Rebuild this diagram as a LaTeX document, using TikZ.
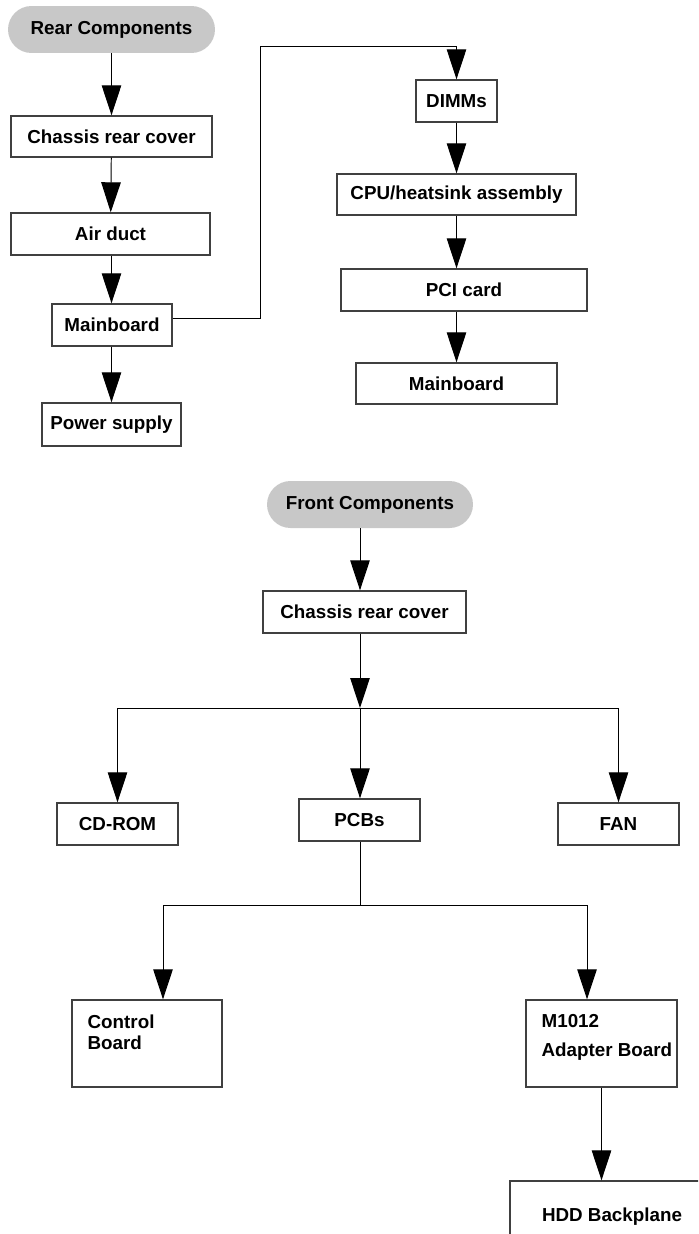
\documentclass[tikz,border=0pt]{standalone}
\usepackage{fontspec}
\setmainfont{Liberation Sans}
\usetikzlibrary{arrows.meta}

\definecolor{pillgray}{RGB}{200,200,200}

\begin{document}
\begin{tikzpicture}[x=0.02cm, y=-0.02cm,
        box/.style={draw=black!75, line width=0.8pt, inner sep=0pt,
            font=\fontsize{10.7}{12}\selectfont\bfseries},
        pill/.style={fill=pillgray, rounded corners=0.47cm, inner sep=0pt,
            minimum height=0.94cm, font=\fontsize{10.7}{12}\selectfont\bfseries},
        lbl/.style={inner sep=0pt, anchor=north west, align=left,
            font=\fontsize{10.7}{12}\selectfont\bfseries},
        arr/.style={-{Triangle[length=0.6cm, width=0.39cm]}, line width=0.55pt},
        link/.style={line width=0.55pt}]

        \clip (0, 0) rectangle (698, 1234);

        % rear side
        \node[pill, minimum width=4.14cm] (rear) at (111.5, 29.5) {Rear Components};
        \node[box, minimum width=4.02cm, minimum height=0.82cm] (chassisR) at (111.5, 136.5) {Chassis rear cover};
        \node[box, minimum width=3.98cm, minimum height=0.84cm] (duct) at (110.5, 234) {Air duct};
        \node[box, minimum width=2.40cm, minimum height=0.84cm] (mbL) at (112, 325) {Mainboard};
        \node[box, minimum width=2.78cm, minimum height=0.86cm] (psu) at (111.5, 424.5) {Power supply};

        \node[box, minimum width=1.62cm, minimum height=0.84cm] (dimms) at (456.5, 101) {DIMMs};
        \node[box, minimum width=4.78cm, minimum height=0.82cm] (cpu) at (456.5, 194.5) {CPU/heatsink assembly};
        \node[box, minimum width=4.92cm, minimum height=0.84cm] (pci) at (464, 290) {PCI card};
        \node[box, minimum width=4.02cm, minimum height=0.82cm] (mbR) at (456.5, 383.5) {Mainboard};

        \draw[arr] (rear) -- (chassisR);
        \draw[arr] (chassisR) -- (duct);
        \draw[arr] (duct.south -| rear) -- (mbL.north -| rear);
        \draw[arr] (mbL.south -| rear) -- (psu.north -| rear);

        \coordinate (turn) at (260, 46);
        \draw[arr] ([yshift=0.14cm]mbL.east) -| (turn) -| (dimms.north);
        \draw[arr] (dimms) -- (cpu);
        \draw[arr] (cpu) -- (cpu |- pci.north);
        \draw[arr] (cpu |- pci.south) -- (mbR);

        % front side
        \node[pill, minimum width=4.12cm] (front) at (370, 504.5) {Front Components};
        \node[box, minimum width=4.06cm, minimum height=0.84cm] (chassisF) at (364.5, 612) {Chassis rear cover};
        \node[box, minimum width=2.42cm, minimum height=0.84cm] (cdrom) at (117.5, 824) {CD-ROM};
        \node[box, minimum width=2.42cm, minimum height=0.84cm] (pcbs) at (359.5, 820) {PCBs};
        \node[box, minimum width=2.42cm, minimum height=0.84cm] (fan) at (618.5, 824) {FAN};

        \node[box, minimum width=3.00cm, minimum height=1.74cm] (ctrl) at (147, 1043.5) {};
        \node[lbl] (ctrlText) at ([xshift=0.32cm, yshift=-0.30cm]ctrl.north west) {Control\\Board};
        \node[box, minimum width=3.02cm, minimum height=1.74cm] (adapter) at (601.5, 1043.5) {};
        \node[lbl] (adapterText) at ([xshift=0.32cm, yshift=-0.30cm]adapter.north west) {M1012\\[4.5pt]Adapter Board};
        \node[box, minimum width=4.08cm, minimum height=1.44cm] (hdd) at (612, 1217) {HDD Backplane};

        \coordinate (split) at (360, 708);
        \coordinate (split2) at (360, 905);

        \draw[arr] (split |- front.south) -- (split |- chassisF.north);
        \draw[arr] (split |- chassisF.south) -- (split);
        \draw[arr] (split) -| (cdrom.north);
        \draw[arr] (split) -- (split |- pcbs.north);
        \draw[arr] (split) -| (fan.north);

        \draw[link] (split |- pcbs.south) -- (split2);
        \draw[arr] (split2) -| ([xshift=0.32cm]ctrl.north);
        \draw[arr] (split2) -| ([xshift=-0.29cm]adapter.north);
        \draw[arr] (adapter) -- (adapter |- hdd.north);

    \end{tikzpicture}
\end{document}
